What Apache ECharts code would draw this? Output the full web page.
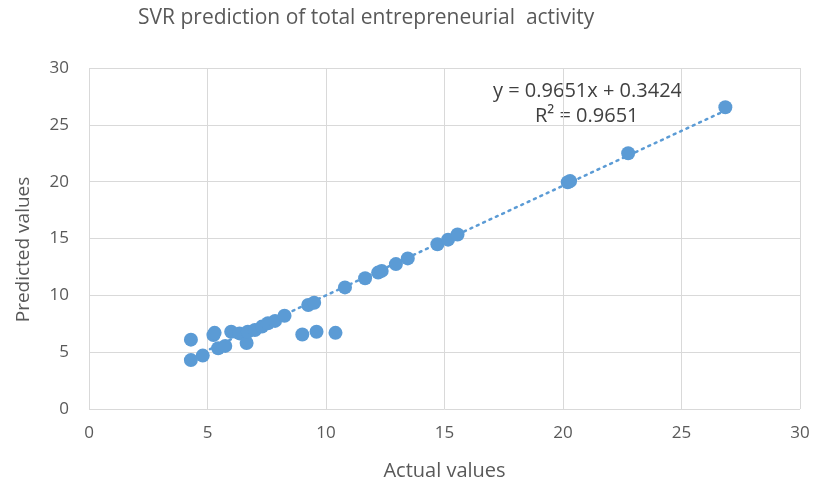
<!DOCTYPE html>
<html>
<head>
<meta charset="utf-8">
<script src="https://cdn.jsdelivr.net/npm/echarts@6/dist/echarts.min.js"></script>
<style>
  html, body { margin: 0; padding: 0; background: #fff; }
  #main { width: 823px; height: 489px; }
</style>
</head>
<body>
<div id="main"></div>
<script>
/* 实际值 / 预测值 */
var actualVals = [4.3, 4.3, 4.8, 5.25, 5.3, 5.45, 5.75, 6.0, 6.35, 6.65, 6.7, 7.0, 7.3, 7.55, 7.85, 8.25,
  9.0, 9.6, 10.4, 9.25, 9.5, 10.8, 11.65, 12.2, 12.35, 12.95, 13.45, 14.7, 15.15, 15.55,
  20.2, 20.3, 22.75, 26.85];
var predictedVals = [6.1, 4.3, 4.7, 6.5, 6.7, 5.35, 5.55, 6.8, 6.65, 5.8, 6.8, 6.95, 7.25, 7.55, 7.75, 8.2,
  6.55, 6.8, 6.7, 9.15, 9.35, 10.7, 11.5, 12.0, 12.15, 12.75, 13.25, 14.5, 14.9, 15.35,
  19.95, 20.05, 22.5, 26.55];
var slope = 0.9651;
var intercept = 0.3424;
var rSquared = 0.9651;

var points = [];
for (var i = 0; i < actualVals.length; i++) {
  points.push([actualVals[i], predictedVals[i]]);
}
var xMin = Math.min.apply(null, actualVals);
var xMax = Math.max.apply(null, actualVals);
var trend = [[xMin, slope * xMin + intercept], [xMax, slope * xMax + intercept]];

var myChart = echarts.init(document.getElementById('main'));
var option = {
  backgroundColor: '#fff',
  animation: false,
  title: {
    text: 'SVR prediction of total entrepreneurial  activity',
    left: 133,
    top: 3,
    textStyle: { color: '#595959', fontWeight: 'normal', fontSize: 21, fontFamily: 'Open Sans' }
  },
  grid: { left: 89, right: 23, top: 68, bottom: 80 },
  xAxis: {
    type: 'value', min: 0, max: 30, interval: 5,
    name: 'Actual values', nameLocation: 'middle', nameGap: 52,
    nameTextStyle: { color: '#595959', fontSize: 20, fontFamily: 'Open Sans' },
    axisLine: { show: false },
    axisTick: { show: false },
    axisLabel: { color: '#595959', fontSize: 17, fontFamily: 'Open Sans', margin: 16 },
    splitLine: { show: true, lineStyle: { color: '#d9d9d9', width: 1 } }
  },
  yAxis: {
    type: 'value', min: 0, max: 30, interval: 5,
    name: 'Predicted values', nameLocation: 'middle', nameGap: 56,
    nameTextStyle: { color: '#595959', fontSize: 19, fontFamily: 'Open Sans', padding: [0, 22, 0, 0] },
    axisLine: { show: false },
    axisTick: { show: false },
    axisLabel: { color: '#595959', fontSize: 17, fontFamily: 'Open Sans', margin: 20 },
    splitLine: { show: true, lineStyle: { color: '#d9d9d9', width: 1 } }
  },
  graphic: [{
    type: 'text', left: 493, top: 81,
    style: { text: 'y = ' + slope + 'x + ' + intercept, fill: '#404040', font: '20px "Open Sans"' }
  }, {
    type: 'text', left: 535, top: 106,
    style: { text: 'R² = ' + rSquared.toFixed(4), fill: '#404040', font: '20px "Open Sans"' }
  }],
  series: [{
    name: 'trend',
    type: 'line',
    data: trend,
    symbol: 'none',
    lineStyle: { color: '#5B9BD5', width: 2.5, type: [2, 5], cap: 'round' },
    z: 1
  }, {
    name: 'SVR',
    type: 'scatter',
    data: points,
    symbolSize: 14,
    itemStyle: { color: '#5B9BD5', opacity: 1 },
    z: 2
  }]
};
myChart.setOption(option);
</script>
</body>
</html>
